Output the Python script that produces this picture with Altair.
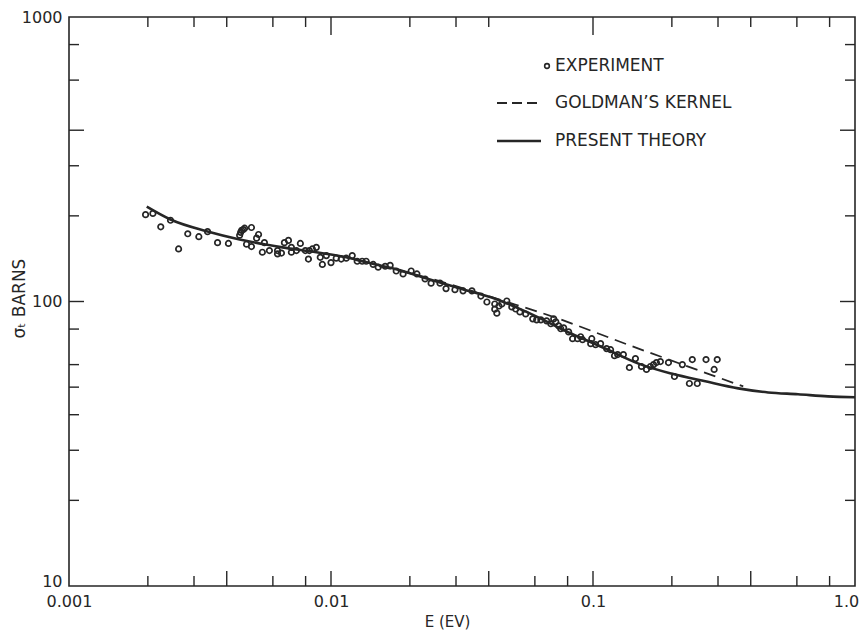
import altair as alt
import pandas as pd

# ---------------- data ----------------
exp_E = [0.00196, 0.00209, 0.00224, 0.00244, 0.00262, 0.00284, 0.00313, 0.00338,
         0.00369, 0.00406, 0.00448, 0.00452, 0.00456, 0.00463, 0.00468, 0.00497,
         0.00529, 0.00520, 0.00476, 0.00497, 0.00547, 0.00557, 0.00582, 0.00625,
         0.00625, 0.00647, 0.00664, 0.00688, 0.00706, 0.00706, 0.00738, 0.00764,
         0.00798, 0.00827, 0.00849, 0.00879, 0.00820, 0.00910, 0.00927, 0.00960,
         0.0100, 0.01047, 0.01094, 0.01143, 0.01205, 0.01259, 0.01315, 0.01362,
         0.01449, 0.01514, 0.0161, 0.01682, 0.01774, 0.01884, 0.02023, 0.02128,
         0.02286, 0.0241, 0.02606, 0.02748, 0.02972, 0.03191, 0.03451, 0.03733,
         0.03936, 0.04217, 0.04217, 0.04295, 0.04375, 0.04487, 0.04688, 0.04898,
         0.0507, 0.0526, 0.05534, 0.05888, 0.06095, 0.06324, 0.06653, 0.06902,
         0.07079, 0.07211, 0.07396, 0.07534, 0.07727, 0.08072, 0.08356, 0.0873,
         0.0912, 0.0897, 0.098, 0.0989, 0.1023, 0.1069, 0.1127, 0.1167,
         0.1208, 0.1242, 0.1306, 0.1377, 0.1452, 0.1531, 0.16, 0.1656,
         0.1702, 0.1746, 0.1808, 0.1941, 0.2046, 0.2193, 0.2333, 0.25,
         0.2393, 0.27, 0.298, 0.29]
exp_sigma = [202, 204, 183, 193, 153, 173, 169, 176,
             161, 160, 171, 175, 178, 179, 181, 182,
             172, 167, 159, 156, 149, 161, 151, 151,
             147, 148, 161, 164, 155, 149, 151, 160,
             151, 151, 153, 155, 141, 143, 135, 145,
             137, 142, 141, 142, 145, 138.5, 138.5, 138.5,
             135, 132, 133, 134, 128, 125, 128, 125,
             120, 116, 116, 111, 110, 109, 109, 104.5,
             99.6, 98, 94, 91, 96.4, 98, 100.4, 95.7,
             94.1, 91.9, 90.4, 86.9, 86.2, 86.2, 85.5, 83.5,
             86.9, 84.8, 82.1, 80.2, 80.8, 78.2, 74, 74,
             73.4, 75.2, 71.1, 74, 70.5, 71.1, 68.3, 67.7,
             64.5, 65.1, 65.1, 58.6, 63.0, 59.1, 57.7, 59.1,
             60.0, 61.0, 61.5, 61.0, 54.5, 60.0, 51.5, 51.5,
             62.5, 62.5, 62.5, 57.7]

theory_E = [0.00198, 0.00244, 0.00338, 0.00448, 0.00653, 0.00879, 0.01143, 0.01315,
            0.01774, 0.02367, 0.03161, 0.04258, 0.05686, 0.08289, 0.1117, 0.1492,
            0.1992, 0.2684, 0.3584, 0.4661, 0.6062, 0.7885, 1.0]
theory_sigma = [215.4, 194.1, 176.2, 165.2, 155.0, 148.9, 143.0, 138.5,
                129.9, 119.8, 110.6, 102.0, 91.2, 77.0, 68.3, 60.5,
                55.8, 52.4, 49.5, 47.9, 47.2, 46.4, 46.1]

goldman_E = [0.01527, 0.02367, 0.03361, 0.04567, 0.06207, 0.1492, 0.3745]
goldman_sigma = [133.0, 120.8, 109.7, 100.4, 91.9, 68.3, 50.3]

x_major = [0.001, 0.01, 0.1, 1.0]
x_major_labels = ["0.001", "0.01", "0.1", "1.0"]
y_major = [10, 100, 1000]

x_ticks_bottom_short = [0.002, 0.003, 0.006, 0.008, 0.02, 0.03, 0.06, 0.08, 0.2, 0.3, 0.6, 0.8]
x_ticks_bottom_long = [0.004, 0.01, 0.04, 0.1, 0.4]
x_ticks_top_short = [0.002, 0.003, 0.004, 0.006, 0.008, 0.02, 0.03, 0.04, 0.2, 0.3, 0.4, 0.6, 0.8]
x_ticks_top_long = [0.01, 0.1]
y_ticks_short = [800, 600, 300, 200, 80, 60, 50, 40, 30, 20]
y_ticks_long = [400, 100]

legend_labels = ["EXPERIMENT", "GOLDMAN\u2019S KERNEL", "PRESENT THEORY"]

# ---------------- styling ----------------
W, H = 786, 569
INK = "#262626"
FONT = "DejaVu Sans"
SHORT, LONG = 10, 15

xs = alt.Scale(type="log", domain=[0.001, 1.0])
ys = alt.Scale(type="log", domain=[10, 1000])

label_expr = " : ".join(
    f"datum.value == {v} ? '{t}'" for v, t in zip(x_major[:-1], x_major_labels[:-1])
) + f" : '{x_major_labels[-1]}'"

exp_df = pd.DataFrame({"E": exp_E, "sigma": exp_sigma})
theory_df = pd.DataFrame({"E": theory_E, "sigma": theory_sigma})
goldman_df = pd.DataFrame({"E": goldman_E, "sigma": goldman_sigma})

X_AXIS = alt.Axis(
    values=x_major, labelExpr=label_expr, title="E (EV)", labelFlush=False,
    labelPadding=7, titleX=378, titleY=35, titleBaseline="middle",
    labelOffset={"condition": {"test": f"datum.value == {x_major[-1]}", "value": -9}, "value": 0},
)
Y_AXIS = alt.Axis(
    values=y_major, format="d", title="\u03c3\u209c BARNS", labelFlush=False,
    labelPadding=7, titleX=-50, titleY=281, titleBaseline="middle", titleFontSize=17,
    labelBaseline={"condition": {"test": f"datum.value == {y_major[0]}", "value": "alphabetic"},
                   "value": "middle"},
)

points = alt.Chart(exp_df).mark_point(
    shape="circle", filled=False, size=30, strokeWidth=1.7, color=INK, opacity=1
).encode(
    x=alt.X("E:Q", scale=xs, axis=X_AXIS),
    y=alt.Y("sigma:Q", scale=ys, axis=Y_AXIS),
)

theory = alt.Chart(theory_df).mark_line(
    color=INK, strokeWidth=2.6, interpolate="monotone"
).encode(x=alt.X("E:Q", scale=xs, axis=X_AXIS), y=alt.Y("sigma:Q", scale=ys, axis=Y_AXIS))

goldman = alt.Chart(goldman_df).mark_line(
    color=INK, strokeWidth=1.8, strokeDash=[12, 7], interpolate="monotone"
).encode(x=alt.X("E:Q", scale=xs, axis=X_AXIS), y=alt.Y("sigma:Q", scale=ys, axis=Y_AXIS))


def xticks(vals, y0, y1):
    return alt.Chart(pd.DataFrame({"E": vals})).mark_rule(color=INK, strokeWidth=1.4).encode(
        x=alt.X("E:Q", scale=xs, axis=X_AXIS), y=alt.value(y0), y2=alt.value(y1))


def yticks(vals, x0, x1):
    return alt.Chart(pd.DataFrame({"sigma": vals})).mark_rule(color=INK, strokeWidth=1.4).encode(
        y=alt.Y("sigma:Q", scale=ys, axis=Y_AXIS), x=alt.value(x0), x2=alt.value(x1))


tick_layers = [
    xticks(x_ticks_bottom_short, H, H - SHORT),
    xticks(x_ticks_bottom_long, H, H - LONG),
    xticks(x_ticks_top_short, 0, SHORT),
    xticks(x_ticks_top_long, 0, LONG + 3),
    yticks(y_ticks_short, 0, SHORT),
    yticks(y_ticks_long, 0, LONG),
    yticks(y_ticks_short, W, W - SHORT),
    yticks(y_ticks_long, W, W - LONG),
]

one = pd.DataFrame({"k": [0]})
leg_x_text = 486
leg_rows = [49, 86, 124]

leg_point = alt.Chart(one).mark_point(
    shape="circle", filled=False, size=22, strokeWidth=1.6, color=INK, opacity=1
).encode(x=alt.value(478), y=alt.value(leg_rows[0]))
leg_dash = alt.Chart(one).mark_rule(color=INK, strokeWidth=1.8, strokeDash=[10, 5]).encode(
    x=alt.value(428), x2=alt.value(468), y=alt.value(leg_rows[1]))
leg_solid = alt.Chart(one).mark_rule(color=INK, strokeWidth=2.4).encode(
    x=alt.value(428), x2=alt.value(472), y=alt.value(leg_rows[2]))

leg_texts = [
    alt.Chart(pd.DataFrame({"label": [lab]})).mark_text(
        align="left", baseline="middle", font=FONT, fontSize=17, color=INK
    ).encode(x=alt.value(leg_x_text), y=alt.value(yy), text="label:N")
    for lab, yy in zip(legend_labels, leg_rows)
]

chart = alt.layer(
    points, goldman, theory, *tick_layers, leg_point, leg_dash, leg_solid, *leg_texts
).properties(
    width=W, height=H,
    autosize=alt.AutoSizeParams(type="none"),
    padding={"left": 61, "top": 9, "right": 4, "bottom": 44},
    background="white",
).configure_view(
    stroke=INK, strokeWidth=1.6
).configure_axis(
    domain=False, ticks=False, grid=False,
    labelFont=FONT, labelFontSize=16, labelColor=INK,
    titleFont=FONT, titleFontSize=15, titleFontWeight="normal", titleColor=INK,
)

chart.save("out.html", embed_options={"renderer": "svg", "actions": False})
